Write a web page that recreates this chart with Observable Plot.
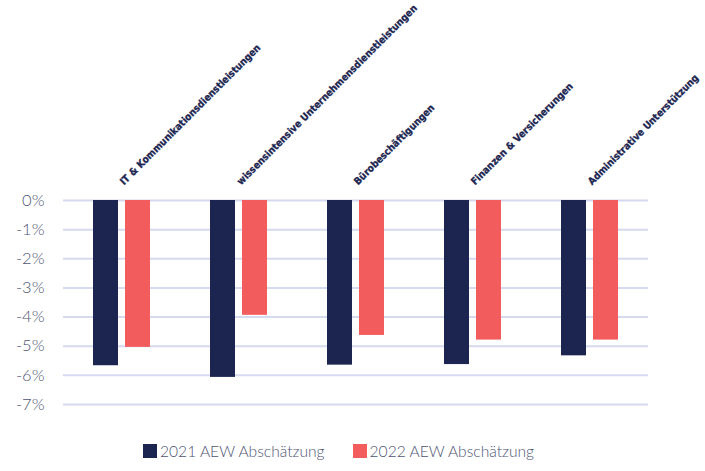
<!DOCTYPE html>
<html>
<head>
<meta charset="utf-8">
<script src="https://cdn.jsdelivr.net/npm/d3@7"></script>
<script src="https://cdn.jsdelivr.net/npm/@observablehq/plot@0.6"></script>
<style>
  html, body { margin: 0; padding: 0; background: #fff; }
  #chart { width: 705px; }
  .legend { display: flex; gap: 28px; font-family: Lato, sans-serif; font-weight: 300; font-size: 15.6px; color: #4e5473; height: 41px; align-items: center; padding-left: 143px; }
  .legend span.sw { display: inline-block; width: 14px; height: 14px; margin-right: 3px; vertical-align: -1px; }
</style>
</head>
<body>
<div id="chart"></div>
<script>
const categories = [
  "IT & Kommunikationsdienstleistungen",
  "wissensintensive Unternehmensdienstleistungen",
  "Bürobeschäftigungen",
  "Finanzen & Versicherungen",
  "Administrative Unterstützung"
];
const seriesNames = ["2021 AEW Abschätzung", "2022 AEW Abschätzung"];
const values2021 = [-5.67, -6.07, -5.65, -5.63, -5.33];
const values2022 = [-5.04, -3.94, -4.63, -4.79, -4.79];
const yTicks = [0, -1, -2, -3, -4, -5, -6, -7];
const colors = ["#1b2550", "#f25c5c"];

const data = [];
categories.forEach((c, i) => {
  data.push({cat: c, series: seriesNames[0], value: values2021[i]});
  data.push({cat: c, series: seriesNames[1], value: values2022[i]});
});

const plot = Plot.plot({
  width: 705,
  height: 430,
  marginLeft: 62,
  marginRight: 57,
  marginTop: 200,
  marginBottom: 26,
  style: {fontFamily: "Lato, sans-serif", overflow: "visible"},
  fx: {domain: categories, padding: 0, axis: null},
  x: {domain: seriesNames, paddingInner: 0.212, paddingOuter: 0.88, axis: null},
  y: {domain: [-7, 0], axis: null},
  color: {domain: seriesNames, range: colors},
  marks: [
    Plot.ruleY(yTicks, {stroke: "#d5daf0", strokeWidth: 2}),
    Plot.axisY({ticks: yTicks, label: null, tickSize: 0, tickPadding: 19, tickFormat: d => (d < 0 ? "-" : "") + Math.abs(d) + "%", fontSize: 16.5, fontWeight: 300, fill: "#4e5473"}),
    Plot.barY(data, {fx: "cat", x: "series", y: "value", fill: "series"}),
    Plot.text(categories, {fx: d => d, text: d => d, frameAnchor: "top", dx: 2, dy: -15, rotate: -45, textAnchor: "start", lineAnchor: "bottom", fontFamily: "DejaVu Sans Condensed", fontWeight: "bold", fontSize: 10, fill: "#1b2550", stroke: "#1b2550", strokeWidth: 0.3})
  ]
});
document.getElementById("chart").appendChild(plot);

const legend = document.createElement("div");
legend.className = "legend";
seriesNames.forEach((s, i) => {
  const item = document.createElement("div");
  item.innerHTML = `<span class="sw" style="background:${colors[i]}"></span>${s}`;
  legend.appendChild(item);
});
document.getElementById("chart").appendChild(legend);
</script>
</body>
</html>
